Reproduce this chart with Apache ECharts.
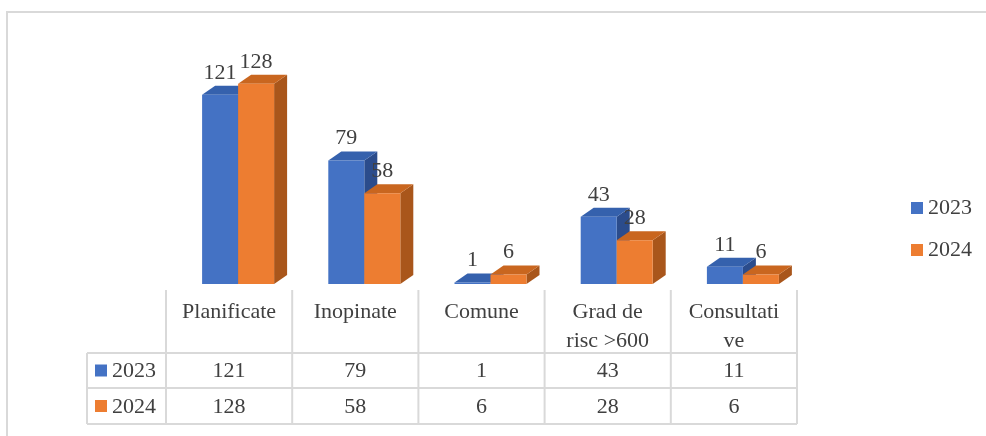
<!DOCTYPE html>
<html>
<head>
<meta charset="utf-8">
<script src="https://cdn.jsdelivr.net/npm/echarts@6/dist/echarts.min.js"></script>
<style>
html, body { margin: 0; padding: 0; background: #fff; }
#chart { width: 986px; height: 436px; }
</style>
</head>
<body>
<div id="chart"></div>
<script>
var categories = ['Planificate', 'Inopinate', 'Comune', 'Grad de risc >600', 'Consultative'];
var headerLabels = ['Planificate', 'Inopinate', 'Comune', 'Grad de\nrisc >600', 'Consultati\nve'];
var years = ['2023', '2024'];
var values2023 = [121, 79, 1, 43, 11];
var values2024 = [128, 58, 6, 28, 6];

var FONT = 'Liberation Serif';
var FONT_SIZE = 22;
var TXT = '#404040';
var LINE = '#d9d9d9';
var faces = [
    {front: '#4472C4', top: '#3561AD', side: '#2B4C8C'},
    {front: '#ED7D31', top: '#C9661F', side: '#A9561B'}
];
var BAR_W = 36, DX = 13, DY = -9;

// draws a fake 3d column: side, top, front face and value label
var render3dBar = function (params, api) {
    var cat = api.value(0);
    var val = api.value(1);
    var base = api.coord([cat, 0]);
    var top = api.coord([cat, val]);
    var x0 = base[0] + 9 + (params.seriesIndex === 0 ? -BAR_W : 0);
    var x1 = x0 + BAR_W;
    var y0 = base[1], y1 = top[1];
    var f = faces[params.seriesIndex];
    return {
        type: 'group',
        children: [
            {type: 'polygon', shape: {points: [[x1, y0], [x1 + DX, y0 + DY], [x1 + DX, y1 + DY], [x1, y1]]}, style: {fill: f.side}},
            {type: 'polygon', shape: {points: [[x0, y1], [x0 + DX, y1 + DY], [x1 + DX, y1 + DY], [x1, y1]]}, style: {fill: f.top}},
            {type: 'rect', shape: {x: x0, y: y1, width: BAR_W, height: y0 - y1}, style: {fill: f.front}},
            {type: 'text', z2: 10, style: {text: String(val), x: (x0 + x1) / 2, y: y1 + DY - 13, align: 'center', verticalAlign: 'middle', font: FONT_SIZE + 'px ' + FONT, fill: TXT}}
        ]
    };
};

var toPairs = function (arr) {
    return arr.map(function (v, i) { return [i, v]; });
};

var myChart = echarts.init(document.getElementById('chart'));
var option = {
    animation: false,
    grid: {left: 166, right: 189, top: 65, bottom: 152},
    xAxis: {
        type: 'category',
        data: categories,
        axisLine: {show: false},
        axisTick: {show: false},
        axisLabel: {show: false}
    },
    yAxis: {type: 'value', min: 0, max: 140, show: false, splitLine: {show: false}},
    legend: {
        data: years,
        orient: 'vertical',
        left: 906,
        top: 192,
        itemWidth: 12,
        itemHeight: 12,
        itemGap: 20,
        icon: 'rect',
        textStyle: {fontSize: FONT_SIZE, fontFamily: FONT, color: TXT, lineHeight: 22}
    },
    series: [
        {name: years[0], type: 'custom', renderItem: render3dBar, itemStyle: {color: faces[0].front}, data: toPairs(values2023)},
        {name: years[1], type: 'custom', renderItem: render3dBar, itemStyle: {color: faces[1].front}, data: toPairs(values2024)}
    ]
};
myChart.setOption(option);

// data table under the plot, aligned to the category bands
var c0 = myChart.convertToPixel({xAxisIndex: 0}, 0);
var bw = myChart.convertToPixel({xAxisIndex: 0}, 1) - c0;
var headTop = 290, rowLines = [353, 388, 424], leftX = 87;
var rows = [values2023, values2024];
var els = [];

els.push({type: 'polyline', shape: {points: [[7, 436], [7, 12], [986, 12]]}, style: {stroke: LINE, lineWidth: 2, fill: null}});

for (var i = 0; i <= categories.length; i++) {
    var x = c0 - bw / 2 + i * bw;
    els.push({type: 'line', shape: {x1: x, y1: headTop, x2: x, y2: rowLines[2]}, style: {stroke: LINE, lineWidth: 2}});
}
els.push({type: 'line', shape: {x1: leftX, y1: rowLines[0], x2: leftX, y2: rowLines[2]}, style: {stroke: LINE, lineWidth: 2}});
var xEnd = c0 - bw / 2 + categories.length * bw;
rowLines.forEach(function (y) {
    els.push({type: 'line', shape: {x1: leftX, y1: y, x2: xEnd, y2: y}, style: {stroke: LINE, lineWidth: 2}});
});

var cellFont = FONT_SIZE + 'px ' + FONT;
headerLabels.forEach(function (t, i) {
    els.push({type: 'text', style: {text: t, x: c0 + i * bw, y: 298, align: 'center', verticalAlign: 'top', lineHeight: 29, font: cellFont, fill: TXT}});
});

rows.forEach(function (vals, r) {
    var cy = (rowLines[r] + rowLines[r + 1]) / 2 + 1;
    els.push({type: 'rect', shape: {x: 95, y: cy - 7, width: 12, height: 12}, style: {fill: faces[r].front}});
    els.push({type: 'text', style: {text: years[r], x: 112, y: cy, align: 'left', verticalAlign: 'middle', font: cellFont, fill: TXT}});
    vals.forEach(function (v, i) {
        els.push({type: 'text', style: {text: String(v), x: c0 + i * bw, y: cy, align: 'center', verticalAlign: 'middle', font: cellFont, fill: TXT}});
    });
});

myChart.setOption({graphic: {elements: els}});
</script>
</body>
</html>
